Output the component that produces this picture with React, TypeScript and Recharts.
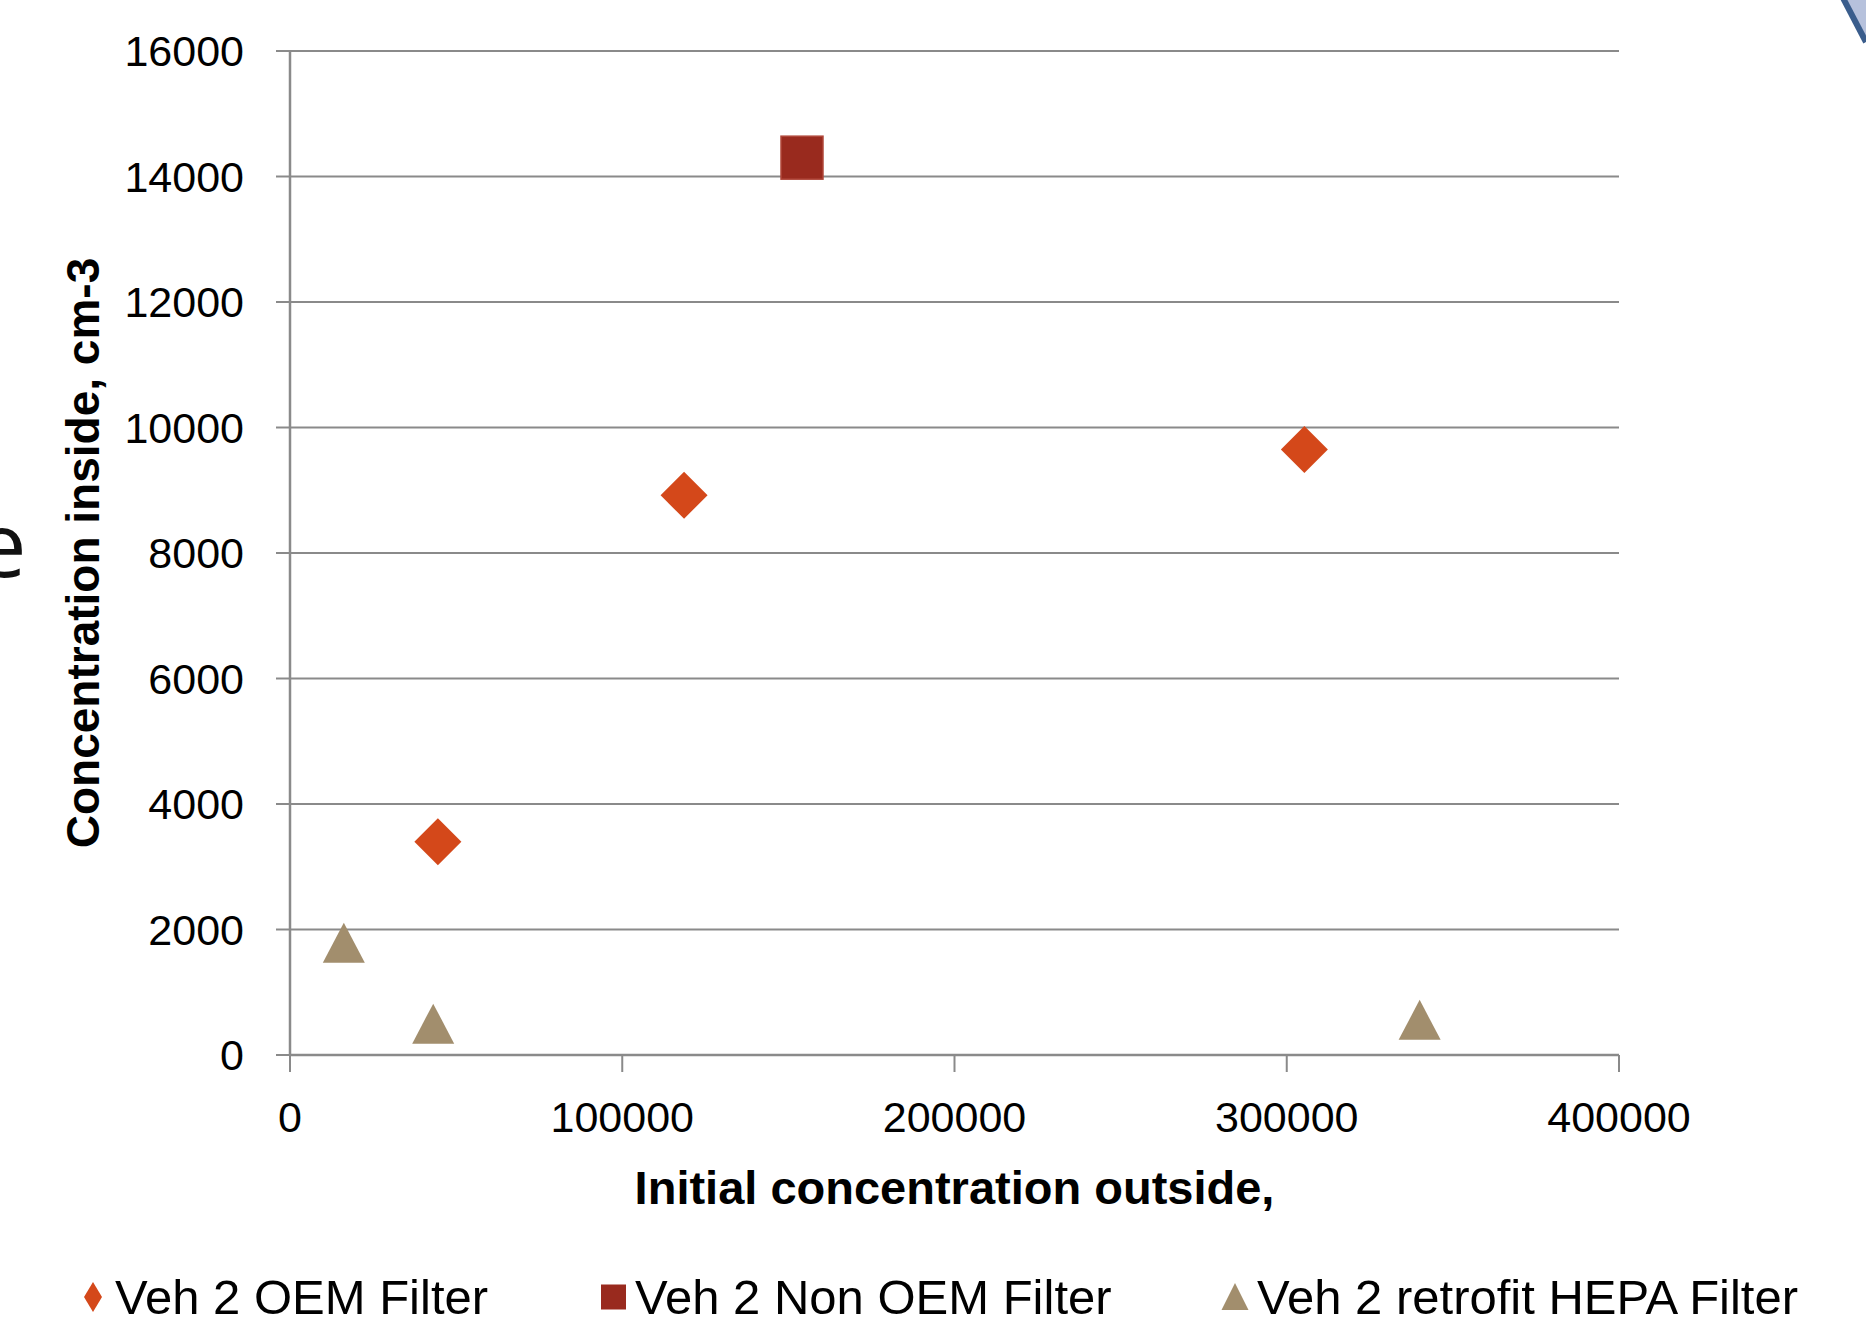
import { ScatterChart, Scatter, XAxis, YAxis, CartesianGrid, Legend } from "recharts";

// values
const OEM_X = [44500, 118600, 305300];
const OEM_Y = [3400, 8920, 9650];
const NON_OEM_X = [154100];
const NON_OEM_Y = [14300];
const HEPA_X = [16200, 43100, 340000];
const HEPA_Y = [1790, 500, 560];

const X_TICKS = [0, 100000, 200000, 300000, 400000];
const Y_TICKS = [0, 2000, 4000, 6000, 8000, 10000, 12000, 14000, 16000];

const SERIES_NAMES = ["Veh 2 OEM Filter", "Veh 2 Non OEM Filter", "Veh 2 retrofit HEPA Filter"];
const SERIES_COLORS = ["#d4481a", "#992a1e", "#a28e6d"];

const X_TITLE = "Initial concentration outside,";
const Y_TITLE = "Concentration inside, cm-3";

const FONT = '"Liberation Sans", Arial, sans-serif';
const W = 1866;
const H = 1325;
const LEGEND_LEFT = [78, 598, 1220];

const toPoints = (xs: number[], ys: number[]) => xs.map((x, i) => ({ x, y: ys[i] }));

const oemData = toPoints(OEM_X, OEM_Y);
const nonOemData = toPoints(NON_OEM_X, NON_OEM_Y);
const hepaData = toPoints(HEPA_X, HEPA_Y);

const DiamondShape = (p: any) => {
  const r = 23.5;
  return (
    <path
      d={`M${p.cx},${p.cy - r}L${p.cx + r},${p.cy}L${p.cx},${p.cy + r}L${p.cx - r},${p.cy}Z`}
      fill={SERIES_COLORS[0]}
    />
  );
};

const SquareShape = (p: any) => (
  <rect
    x={p.cx - 21}
    y={p.cy - 21.5}
    width={42}
    height={43}
    fill={SERIES_COLORS[1]}
    stroke="#b0473a"
    strokeWidth={1.5}
  />
);

const TriangleShape = (p: any) => (
  <path
    d={`M${p.cx},${p.cy - 20}L${p.cx + 21},${p.cy + 20}L${p.cx - 21},${p.cy + 20}Z`}
    fill={SERIES_COLORS[2]}
  />
);

function LegendIcon({ i }: { i: number }) {
  if (i === 0)
    return (
      <svg width={30} height={34} style={{ display: "block" }}>
        <path d="M15,2L24,17L15,32L6,17Z" fill={SERIES_COLORS[0]} />
      </svg>
    );
  if (i === 1)
    return (
      <svg width={30} height={34} style={{ display: "block" }}>
        <rect x={3} y={4.5} width={25} height={25} fill={SERIES_COLORS[1]} />
      </svg>
    );
  return (
    <svg width={30} height={34} style={{ display: "block" }}>
      <path d="M15,3L28.5,30L1.5,30Z" fill={SERIES_COLORS[2]} />
    </svg>
  );
}

const renderLegend = () => (
  <div style={{ position: "relative", width: W, height: 60, fontFamily: FONT, fontSize: 49, color: "#000" }}>
    {SERIES_NAMES.map((name, i) => (
      <div
        key={name}
        style={{ position: "absolute", left: LEGEND_LEFT[i], top: 10, display: "flex", alignItems: "center", whiteSpace: "nowrap" }}
      >
        <LegendIcon i={i} />
        <span style={{ marginLeft: 7, lineHeight: "44px" }}>{name}</span>
      </div>
    ))}
  </div>
);

const XTitle = (props: any) => {
  const vb = props.viewBox;
  return (
    <text
      x={vb.x + vb.width / 2}
      y={vb.y + vb.height - 1}
      textAnchor="middle"
      fontFamily={FONT}
      fontWeight="bold"
      fontSize={47}
      fill="#000"
    >
      {X_TITLE}
    </text>
  );
};

const YTitle = (props: any) => {
  const vb = props.viewBox;
  const cx = 83;
  const cy = vb.y + vb.height / 2;
  return (
    <text
      x={cx}
      y={cy}
      dy="0.355em"
      transform={`rotate(-90 ${cx} ${cy})`}
      textAnchor="middle"
      fontFamily={FONT}
      fontWeight="bold"
      fontSize={46}
      fill="#000"
    >
      {Y_TITLE}
    </text>
  );
};

export default function App() {
  return (
    <div style={{ position: "absolute", left: 0, top: 0, width: W, height: H, background: "#fff", overflow: "hidden" }}>
      {/* cut-off letter from the slide on the left edge */}
      <div
        style={{
          position: "absolute",
          left: -24,
          top: 482,
          fontFamily: '"Open Sans", sans-serif',
          fontSize: 90,
          lineHeight: "120px",
          color: "#111",
        }}
      >
        e
      </div>
      {/* slide decoration at the top right corner */}
      <svg width={40} height={60} style={{ position: "absolute", right: 0, top: 0 }}>
        <path d="M17,-2L40,42L40,-2Z" fill="#b6c1dc" />
        <path d="M17,-2L40,42" stroke="#3a5d8c" strokeWidth={6} />
      </svg>
      <ScatterChart width={W} height={H} margin={{ top: 51, right: 247, bottom: 60, left: 0 }}>
        <CartesianGrid vertical={false} stroke="#8a8a8a" strokeWidth={2} />
        <XAxis
          type="number"
          dataKey="x"
          domain={[0, 400000]}
          ticks={X_TICKS}
          interval={0}
          height={150}
          tickSize={17}
          tickMargin={29}
          axisLine={{ stroke: "#8a8a8a", strokeWidth: 2.5 }}
          tickLine={{ stroke: "#8a8a8a", strokeWidth: 2 }}
          tick={{ fontFamily: FONT, fontSize: 43, fill: "#000" }}
          label={<XTitle />}
        />
        <YAxis
          type="number"
          dataKey="y"
          domain={[0, 16000]}
          ticks={Y_TICKS}
          interval={0}
          width={290}
          tickSize={14}
          tickMargin={32}
          axisLine={{ stroke: "#8a8a8a", strokeWidth: 2.5 }}
          tickLine={{ stroke: "#8a8a8a", strokeWidth: 2 }}
          tick={{ fontFamily: FONT, fontSize: 43, fill: "#000" }}
          label={<YTitle />}
        />
        <Legend verticalAlign="bottom" content={renderLegend} wrapperStyle={{ left: 0, bottom: 0, width: W, height: 60 }} />
        <Scatter name={SERIES_NAMES[0]} data={oemData} fill={SERIES_COLORS[0]} shape={DiamondShape} isAnimationActive={false} />
        <Scatter name={SERIES_NAMES[1]} data={nonOemData} fill={SERIES_COLORS[1]} shape={SquareShape} isAnimationActive={false} />
        <Scatter name={SERIES_NAMES[2]} data={hepaData} fill={SERIES_COLORS[2]} shape={TriangleShape} isAnimationActive={false} />
      </ScatterChart>
    </div>
  );
}
